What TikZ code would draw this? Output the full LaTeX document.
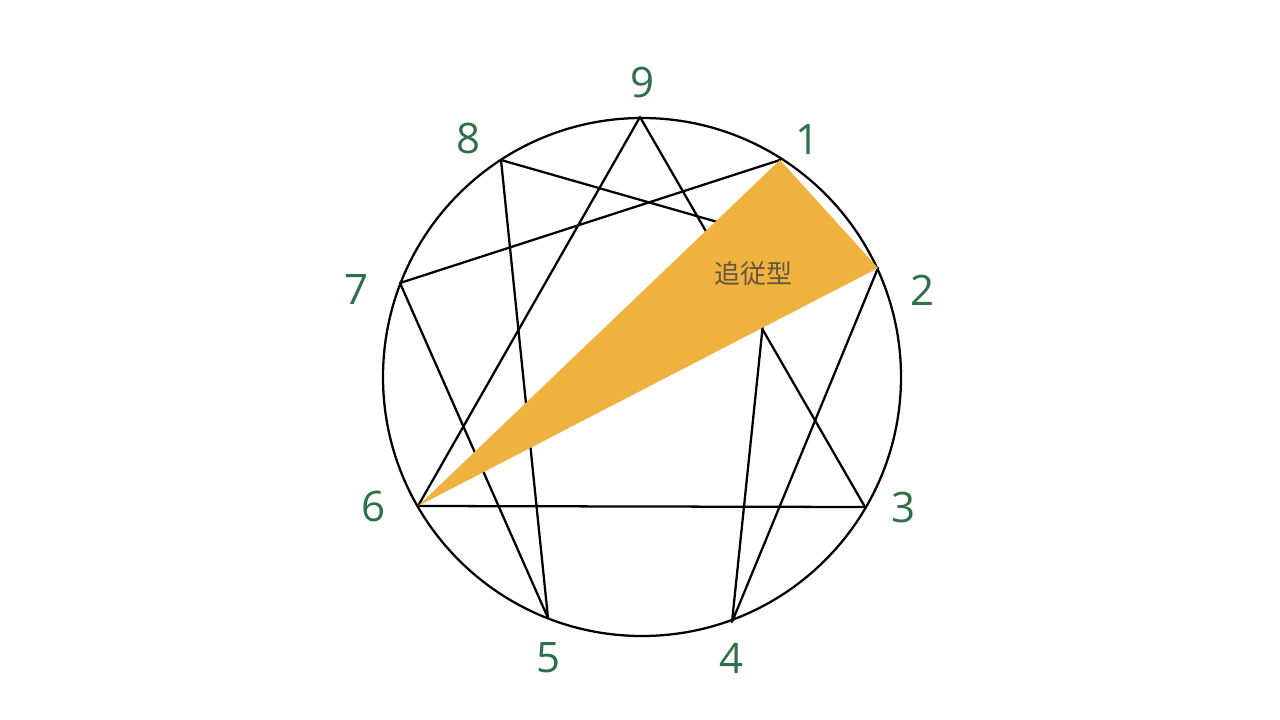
\documentclass[tikz,border=0pt]{standalone}
\usepackage{fontspec}
\newfontfamily\numfont{Open Sans}
\newfontfamily\cjk{Noto Sans CJK JP}
\definecolor{numgreen}{RGB}{46,112,74}
\definecolor{fillorange}{RGB}{240,178,62}
\definecolor{textgray}{RGB}{100,86,64}

\tikzset{every picture/.style={line width=1.7pt}}
\tikzset{numlabel/.style={inner sep=0pt,anchor=center,font=\numfont\fontsize{31.5}{32}\selectfont,text=numgreen}}

\begin{document}
\begin{tikzpicture}[x=0.75pt,y=0.75pt,yscale=-1,xscale=1]
\useasboundingbox (0,0) rectangle (1280,720);

% points on the circle
\coordinate (p9) at (640,117);
\coordinate (p1) at (780,160);
\coordinate (p2) at (878,268);
\coordinate (p3) at (865,507);
\coordinate (p4) at (732,622);
\coordinate (p5) at (548,618);
\coordinate (p6) at (418,506);
\coordinate (p7) at (400,283);
\coordinate (p8) at (501,160);

%Shape: Circle
\draw (642,377) circle [radius=259];
%Straight Lines: triangle
\draw [line join=round] (p9) -- (p3) -- (p6) -- cycle ;
%Straight Lines: hexad
\draw [line join=round] (p1) -- (p4) -- (p2) -- (p8) -- (p5) -- (p7) -- cycle ;
%Shape: Triangle
\fill [fillorange] (p1) -- (p2) -- (p6) -- cycle ;

% Text Node
\node [numlabel] (n9) at (642,83) {9};
% Text Node
\node [numlabel] (n1) at (807,140) {1};
% Text Node
\node [numlabel] (n2) at (922,290) {2};
% Text Node
\node [numlabel] (n3) at (903,507) {3};
% Text Node
\node [numlabel] (n4) at (731,658) {4};
% Text Node
\node [numlabel] (n5) at (548,658) {5};
% Text Node
\node [numlabel] (n6) at (374,506) {6};
% Text Node
\node [numlabel] (n7) at (357,290) {7};
% Text Node
\node [numlabel] (n8) at (469,139) {8};
% Text Node
\node [inner sep=0pt,font=\cjk\fontsize{19.5}{20}\selectfont,text=textgray] (lbl) at (753,274) {追従型};

\end{tikzpicture}
\end{document}
